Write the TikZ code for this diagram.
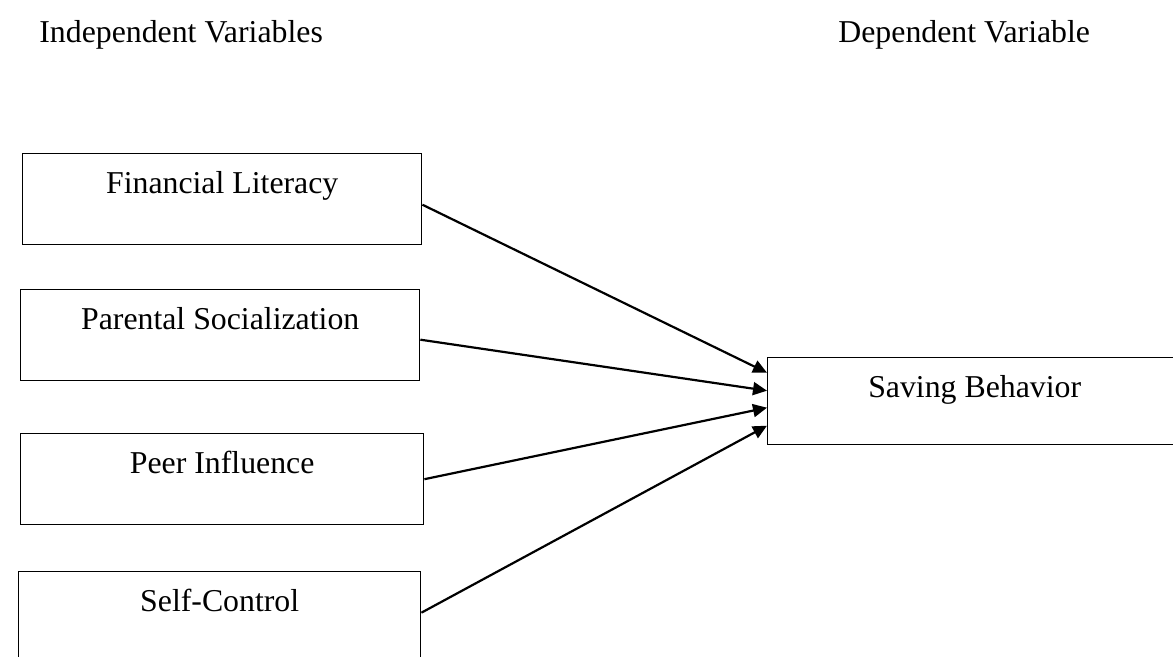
\documentclass[tikz,border=0pt]{standalone}
\usepackage{fontspec}
\setmainfont{Liberation Serif}
\usepackage{tikz}
\usetikzlibrary{arrows.meta}

\begin{document}
\begin{tikzpicture}[x=0.5pt, y=-0.5pt,
		>={Triangle[length=7pt,width=6.5pt]},   %Voreinstellung für Pfeilspitzen
		font=\fontsize{15.9}{19}\selectfont,
		varbox/.style={draw, line width=0.7pt, rectangle, anchor=north west, inner sep=0pt,
			minimum width=#1, text height=20pt, text depth=25.5pt},
		kopf/.style={anchor=base west, inner sep=0pt},
		pfeil/.style={->, line width=1.1pt}]
		% Bildbereich
		\useasboundingbox (0,0) rectangle (1173,657);
		\clip (0,0) rectangle (1173,657);
		% Überschriften
		\node[kopf] (unabh) at (39,43) {Independent Variables};
		\node[kopf] (abh) at (838,43) {Dependent Variable};
		% Kästen links
		\node[varbox=199.5pt] (fin) at (22,153) {Financial Literacy};
		\node[varbox=199.5pt] (par) at (20,289) {Parental Socialization};
		\node[varbox=201.5pt] (peer) at (20,433) {Peer Influence};
		\node[varbox=201pt] (self) at (18,571) {Self-Control};
		% Kasten rechts
		\node[varbox=207pt, text depth=23.5pt] (sav) at (767,357) {Saving Behavior};
		% Pfeile zeichnen
		\draw[pfeil] ([yshift=-2.75pt]fin.east) -- ([yshift=14.25pt]sav.west);
		\draw[pfeil] ([yshift=-2.25pt]par.east) -- ([yshift=5.25pt]sav.west);
		\draw[pfeil] (peer.east) -- ([yshift=-3.25pt]sav.west);
		\draw[pfeil] ([yshift=2.25pt]self.east) -- ([yshift=-12.25pt]sav.west);
	\end{tikzpicture}
\end{document}
